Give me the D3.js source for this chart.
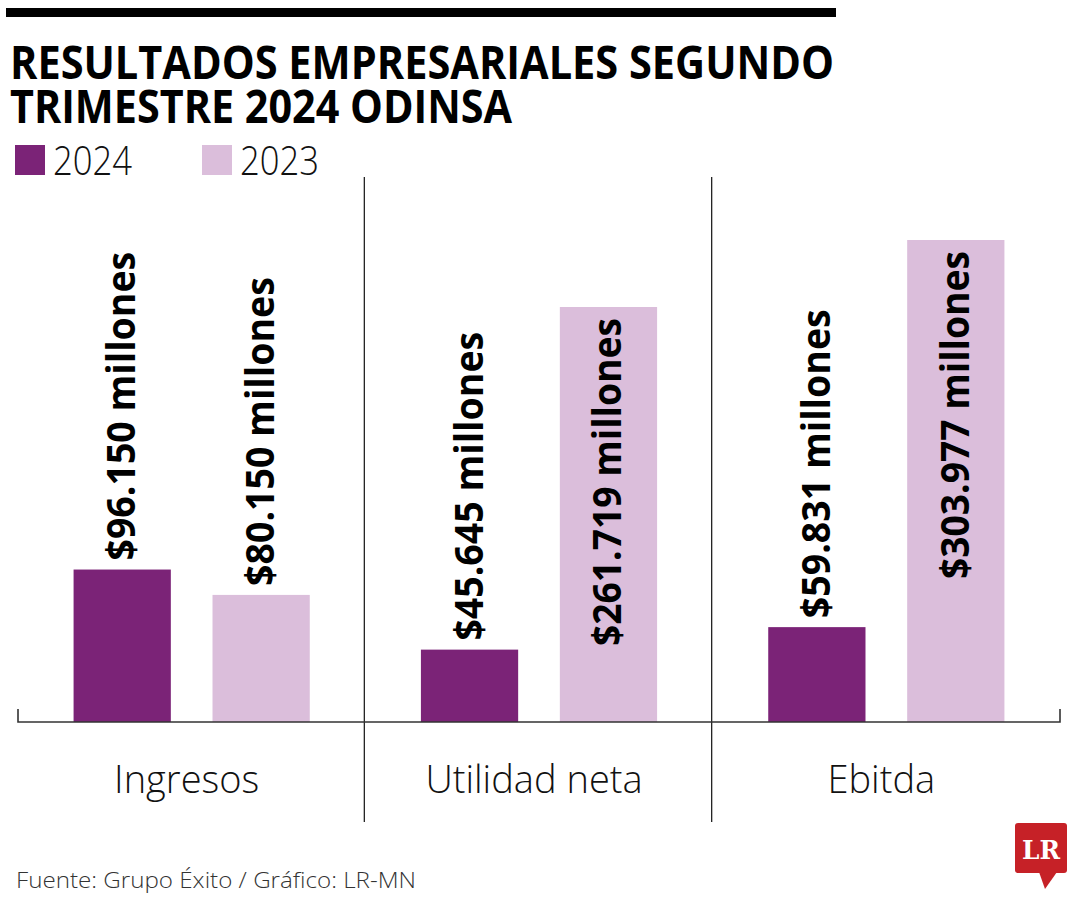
<!DOCTYPE html>
<html>
<head>
<meta charset="utf-8">
<script src="https://cdn.jsdelivr.net/npm/d3@7"></script>
<style>
	body { margin: 0; background: #fff; }
	svg text { font-family: "Open Sans", "Noto Sans", sans-serif; }
</style>
</head>
<body>
<div id="container"></div>
<script>
//// Grouped bars, Odinsa Q2 ////

// Data
const categories = ["Ingresos", "Utilidad neta", "Ebitda"];
const series = ["2024", "2023"];
const values2024 = [96.150, 45.645, 59.831];
const values2023 = [80.150, 261.719, 303.977];
const labels2024 = ["$96.150 millones", "$45.645 millones", "$59.831 millones"];
const labels2023 = ["$80.150 millones", "$261.719 millones", "$303.977 millones"];
const colors = ["#7b2377", "#dbbedb"];

const width = 1080, height = 900;

function main() {
	// rows: one per bar
	const rows = [];
	categories.forEach((c, i) => {
		rows.push({cat: c, s: series[0], v: values2024[i], label: labels2024[i]});
		rows.push({cat: c, s: series[1], v: values2023[i], label: labels2023[i]});
	});

	const svg = d3.create("svg")
		.attr("width", width)
		.attr("height", height);

	// top rule
	svg.append("rect")
		.attr("x", 6).attr("y", 8)
		.attr("width", 830).attr("height", 9)
		.attr("fill", "#000");

	// title
	const title = ["RESULTADOS EMPRESARIALES SEGUNDO", "TRIMESTRE 2024 ODINSA"];
	const titleLen = [824, 502];
	svg.selectAll(".title")
		.data(title)
		.enter()
		.append("text")
		.attr("class", "title")
		.attr("x", 10)
		.attr("y", (d, i) => 79 + i * 44)
		.attr("font-size", 46)
		.attr("font-weight", 700)
		.attr("fill", "#000")
		.attr("textLength", (d, i) => titleLen[i])
		.attr("lengthAdjust", "spacingAndGlyphs")
		.text(d => d);

	// legend
	const legend = svg.selectAll(".legend")
		.data(series)
		.enter()
		.append("g")
		.attr("transform", (d, i) => `translate(${15 + i * 187},145)`);
	legend.append("rect")
		.attr("width", 30).attr("height", 30)
		.attr("fill", (d, i) => colors[i]);
	legend.append("text")
		.attr("x", 38).attr("y", 30)
		.attr("font-size", 40)
		.attr("font-weight", 300)
		.attr("fill", "#111")
		.attr("textLength", 79)
		.attr("lengthAdjust", "spacingAndGlyphs")
		.text(d => d);

	// scales
	const x0 = d3.scaleBand()
		.domain(categories)
		.range([18, 1060]);
	const x1 = d3.scaleBand()
		.domain(series)
		.range([0, x0.bandwidth()])
		.paddingInner(0.30)
		.paddingOuter(0.40);
	const y = d3.scaleLinear()
		.domain([0, d3.max(values2023.concat(values2024))])
		.range([722, 240]);
	const color = d3.scaleOrdinal().domain(series).range(colors);

	// separators between groups
	svg.selectAll(".sep")
		.data(categories.slice(1))
		.enter()
		.append("line")
		.attr("x1", d => x0(d) - 1).attr("x2", d => x0(d) - 1)
		.attr("y1", 177).attr("y2", 822)
		.attr("stroke", "#222")
		.attr("stroke-width", 1.3);

	// bars
	svg.append("g")
		.selectAll("rect")
		.data(rows)
		.enter()
		.append("rect")
		.attr("x", d => x0(d.cat) + x1(d.s))
		.attr("y", d => y(d.v))
		.attr("width", x1.bandwidth())
		.attr("height", d => y(0) - y(d.v))
		.attr("fill", d => color(d.s));

	// value labels, vertical; tall bars get them inside
	svg.append("g")
		.selectAll("text")
		.data(rows)
		.enter()
		.append("text")
		.attr("transform", d => {
			const cx = x0(d.cat) + x1(d.s) + x1.bandwidth() / 2 + 13;
			const inside = y(0) - y(d.v) > 300;
			const ty = inside ? y(d.v) + 11 : y(d.v) - 9;
			return `translate(${cx},${ty}) rotate(-90)`;
		})
		.attr("text-anchor", d => (y(0) - y(d.v) > 300) ? "end" : "start")
		.attr("font-size", 40)
		.attr("font-weight", 700)
		.attr("fill", "#000")
		.attr("textLength", d => d.label.length * 19.3)
		.attr("lengthAdjust", "spacingAndGlyphs")
		.text(d => d.label);

	// axis baseline
	const axis = d3.axisBottom(x0).tickSize(0).tickPadding(0).tickFormat("");
	const gx = svg.append("g")
		.attr("transform", `translate(0,${y(0)})`)
		.call(axis);
	gx.select(".domain")
		.attr("d", `M18,-13V0H1060V-13`)
		.attr("stroke", "#333")
		.attr("stroke-width", 1.6)
		.attr("fill", "none");

	// category labels
	svg.selectAll(".cat")
		.data(categories)
		.enter()
		.append("text")
		.attr("class", "cat")
		.attr("x", d => x0(d) + x0.bandwidth() / 2 - 5)
		.attr("y", 793)
		.attr("text-anchor", "middle")
		.attr("font-size", 38)
		.attr("font-weight", 300)
		.attr("fill", "#111")
		.text(d => d);

	// source
	svg.append("text")
		.attr("x", 16).attr("y", 888)
		.attr("font-size", 22)
		.attr("font-weight", 300)
		.attr("fill", "#333")
		.attr("textLength", 400)
		.attr("lengthAdjust", "spacingAndGlyphs")
		.text("Fuente: Grupo Éxito / Gráfico: LR-MN");

	// LR logo
	const logo = svg.append("g").attr("transform", "translate(1015,823)");
	logo.append("rect")
		.attr("width", 52).attr("height", 50)
		.attr("rx", 3)
		.attr("fill", "#c62127");
	logo.append("path")
		.attr("d", "M24,49 L30,66 L42,49 Z")
		.attr("fill", "#c62127");
	logo.append("text")
		.attr("x", 26).attr("y", 36)
		.attr("text-anchor", "middle")
		.style("font-family", "'DejaVu Serif', 'Liberation Serif', serif")
		.attr("font-size", 26)
		.attr("font-weight", 700)
		.attr("fill", "#fff")
		.attr("textLength", 38)
		.attr("lengthAdjust", "spacingAndGlyphs")
		.text("LR");

	document.getElementById("container").append(svg.node());
}

main();
</script>
</body>
</html>
